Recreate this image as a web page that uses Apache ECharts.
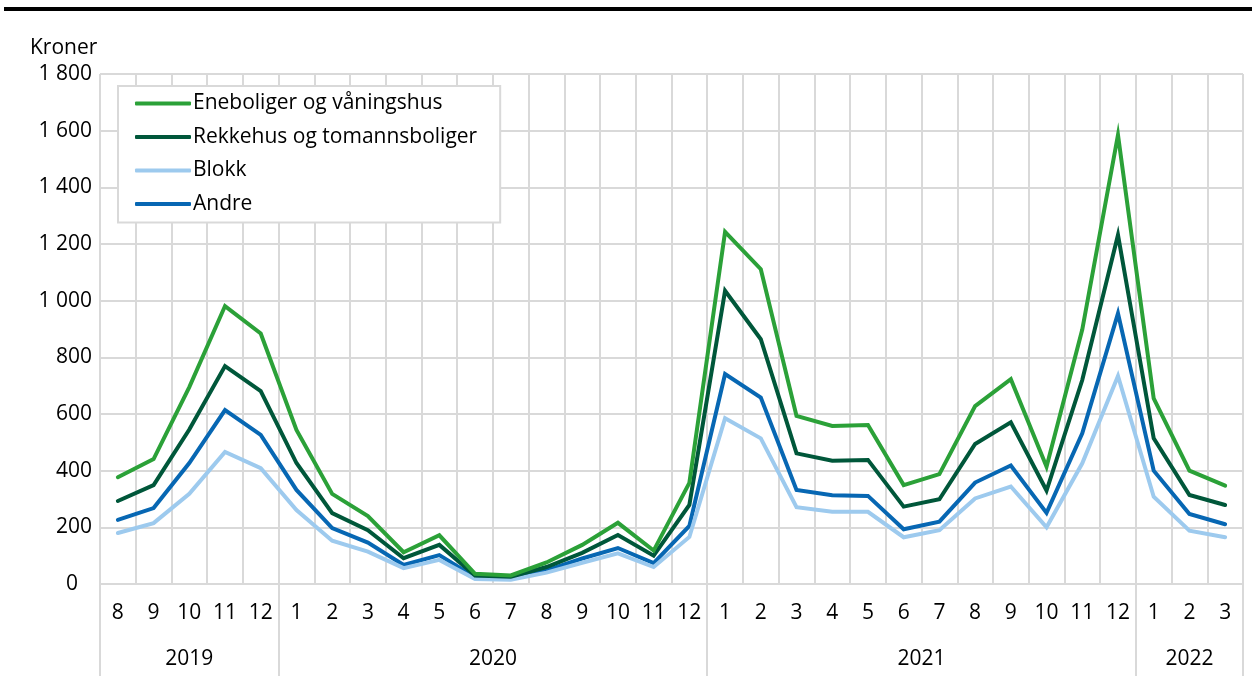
<!DOCTYPE html>
<html>
<head>
<meta charset="utf-8">
<script src="https://cdn.jsdelivr.net/npm/echarts@6/dist/echarts.min.js"></script>
<style>
html,body{margin:0;padding:0;background:#fff;}
#chart{width:1252px;height:676px;}
</style>
</head>
<body>
<div id="chart"></div>
<script>
// ---- data ----
const years = ['2019', '2020', '2021', '2022'];
const monthsPerYear = [
  ['8','9','10','11','12'],
  ['1','2','3','4','5','6','7','8','9','10','11','12'],
  ['1','2','3','4','5','6','7','8','9','10','11','12'],
  ['1','2','3']
];
const seriesNames = ['Eneboliger og våningshus', 'Rekkehus og tomannsboliger', 'Blokk', 'Andre'];
const eneboliger = [377, 441, 695, 981, 884, 544, 318, 240, 112, 172, 36, 30, 76, 138, 216, 118, 357, 1243, 1111, 593, 558, 561, 349, 388, 628, 723, 414, 898, 1585, 655, 400, 347];
const rekkehus   = [293, 349, 545, 769, 681, 427, 250, 190, 91, 138, 30, 26, 60, 110, 173, 100, 279, 1035, 864, 461, 435, 438, 273, 299, 494, 571, 330, 720, 1232, 514, 314, 279];
const blokk      = [180, 215, 318, 466, 409, 261, 153, 114, 56, 85, 18, 15, 40, 75, 108, 60, 166, 585, 514, 271, 255, 255, 165, 190, 302, 344, 200, 426, 734, 308, 188, 165];
const andre      = [226, 268, 427, 614, 526, 332, 197, 146, 67, 102, 24, 21, 48, 90, 127, 74, 205, 741, 658, 332, 313, 311, 193, 220, 358, 418, 251, 532, 955, 400, 247, 211];
const yTicks = { min: 0, max: 1800, interval: 200 };

// ---- derived axes ----
const months = [].concat(...monthsPerYear);
const nMonths = months.length;
// year axis: half-month positions (boundaryGap false), 2*n+1 slots
const halfSlots = 2 * nMonths + 1;
const yearCats = new Array(halfSlots).fill('');
const yearLabelIdx = {};
const yearBoundIdx = {0: true};
let acc = 0;
monthsPerYear.forEach((m, i) => {
  const centerHalf = acc * 2 + m.length;
  yearCats[centerHalf] = years[i];
  yearLabelIdx[centerHalf] = true;
  acc += m.length;
  yearBoundIdx[acc * 2] = true;
});

const colors = ['#2ba138', '#00573a', '#9dcaee', '#0767b3'];
const dataArr = [eneboliger, rekkehus, blokk, andre];
const font = '"Open Sans", "Noto Sans", sans-serif';
const grid = '#d9d9d9';
const fs = 21;

const chart = echarts.init(document.getElementById('chart'), null, {renderer: 'canvas'});
chart.setOption({
  animation: false,
  backgroundColor: '#fff',
  textStyle: { fontFamily: font, color: '#000' },
  title: {
    text: 'Kroner', left: 25, top: 33,
    textStyle: { fontFamily: font, fontSize: fs, fontWeight: 'normal', color: '#000' }
  },
  graphic: [{
    type: 'rect', shape: { x: 4, y: 7, width: 1248, height: 4 },
    style: { fill: '#000' }, silent: true
  }],
  grid: { left: 100, right: 9, top: 74, bottom: 92, containLabel: false },
  legend: {
    orient: 'vertical', left: 118, top: 86,
    padding: [7, 23, 8, 17],
    itemGap: 12.5, itemWidth: 56, itemHeight: 4,
    icon: 'roundRect',
    backgroundColor: '#fff', borderColor: grid, borderWidth: 2,
    textStyle: { fontFamily: font, fontSize: fs, color: '#000', padding: [0, 0, 0, -3] },
    data: seriesNames
  },
  xAxis: [{
    type: 'category', data: months, boundaryGap: true, position: 'bottom',
    axisLine: { show: true, lineStyle: { color: grid, width: 2 } },
    axisTick: { show: false },
    axisLabel: { margin: 19, fontFamily: font, fontSize: fs, color: '#000', interval: 0 },
    splitLine: { show: true, interval: 0, lineStyle: { color: grid, width: 2 } }
  }, {
    type: 'category', data: yearCats, boundaryGap: false, position: 'bottom',
    axisLine: { show: false },
    axisTick: {
      show: true, length: 92, inside: false,
      interval: (i) => !!yearBoundIdx[i],
      lineStyle: { color: grid, width: 2 }
    },
    axisLabel: {
      margin: 65, fontFamily: font, fontSize: fs, color: '#000',
      interval: (i) => !!yearLabelIdx[i]
    },
    splitLine: { show: false }
  }],
  yAxis: {
    type: 'value', min: yTicks.min, max: yTicks.max, interval: yTicks.interval,
    axisLine: { show: false }, axisTick: { show: false },
    axisLabel: {
      margin: 8, fontFamily: font, fontSize: fs, color: '#000',
      formatter: (v) => v === 0 ? '{z|0}' : (v >= 1000 ? Math.floor(v / 1000) + ' ' + String(v % 1000).padStart(3, '0') : String(v)),
      rich: { z: { fontFamily: font, fontSize: fs, color: '#000', padding: [0, 14, 0, 0] } }
    },
    splitLine: { lineStyle: { color: grid, width: 2 } }
  },
  series: seriesNames.map((name, i) => ({
    name, type: 'line', xAxisIndex: 0, data: dataArr[i],
    symbol: 'none', lineStyle: { width: 4, color: colors[i], cap: 'round', join: 'miter' },
    itemStyle: { color: colors[i] }, z: 10 - i
  }))
});
</script>
</body>
</html>
